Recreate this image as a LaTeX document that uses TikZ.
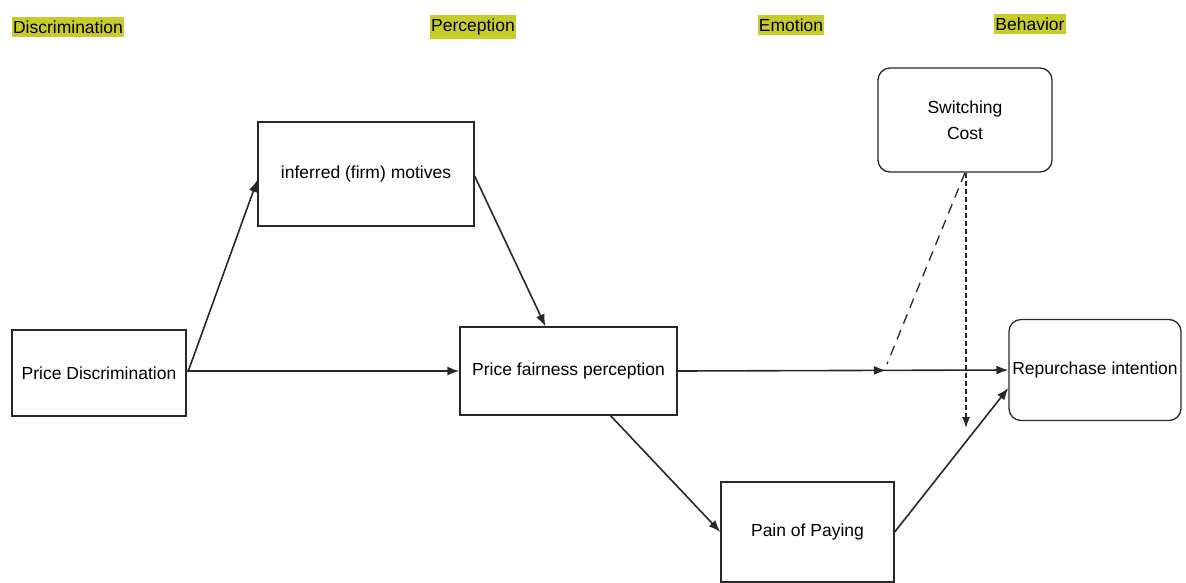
\documentclass[tikz,border=0pt]{standalone}
\usepackage{fontspec}
\setmainfont{Liberation Sans}
\usetikzlibrary{arrows.meta,decorations.markings,calc}
\definecolor{hl}{RGB}{200,204,40}
\definecolor{ln}{RGB}{40,40,40}
\begin{document}
\begin{tikzpicture}[x=1pt,y=-1pt,
  box/.style={draw=ln,line width=1.3pt,fill=white,inner sep=0pt,align=center,font=\fontsize{17.5}{26}\selectfont},
  rbox/.style={box,rounded corners=12pt},
  tag/.style={fill=hl,inner xsep=1pt,inner ysep=4pt,font=\fontsize{17.5}{20}\selectfont},
  arr/.style={draw=ln,line width=1.6pt,-{Latex[length=12pt,width=9pt]}},
  modline/.style={draw=ln,line width=1.3pt,dash pattern=on 10pt off 7pt},
  dotline/.style={draw=ln,line width=1.2pt,dash pattern=on 5pt off 3pt,-{Latex[length=11pt,width=8pt]}}
]
\useasboundingbox (0,0) rectangle (1186,582);
% column headers
\node[tag] (h1) at (68,27) {Discrimination};
\node[tag] (h2) at (473,27) {Perception};
\node[tag] (h3) at (791,25) {Emotion};
\node[tag] (h4) at (1030,24) {Behavior};
% boxes
\node[box,minimum width=174pt,minimum height=86pt] (pd) at (99,373) {Price Discrimination};
\node[box,minimum width=216pt,minimum height=104pt] (mot) at (366,174) {inferred (firm) motives};
\node[box,minimum width=217pt,minimum height=88pt] (pfp) at (568.5,371) {Price fairness perception};
\node[box,minimum width=173pt,minimum height=100pt] (pain) at (807.5,532) {Pain of Paying};
\node[rbox,minimum width=174pt,minimum height=104pt] (sc) at (965,120) {Switching\\Cost};
\node[rbox,minimum width=172pt,minimum height=101pt] (rep) at (1095,370) {Repurchase intention};
% connectors
\draw[arr] (pd.east |- pfp.west) -- (pfp.west);
\draw[arr] ($(pd.east)+(2,-3)$) -- ($(mot.west)+(0,6)$);
\draw[arr] ($(mot.east)+(0,2)$) -- ($(pfp.north)+(-23,0)$);
\draw[arr] ($(pfp.south)+(42,0)$) -- (pain.west);
\draw[arr] (pain.east) -- ($(rep.west)+(0,18)$);
\draw[arr,postaction={decorate},decoration={markings,mark=at position 0.63 with {\arrow{Latex[length=12pt,width=9pt]}}}] (pfp.east) -- (rep.west);
\coordinate (modend) at (887,364);
\coordinate (dotend) at (966,428);
\draw[modline] (sc.south) -- (modend);
\draw[dotline] ($(sc.south)+(1,0)$) -- (dotend);
\end{tikzpicture}
\end{document}
